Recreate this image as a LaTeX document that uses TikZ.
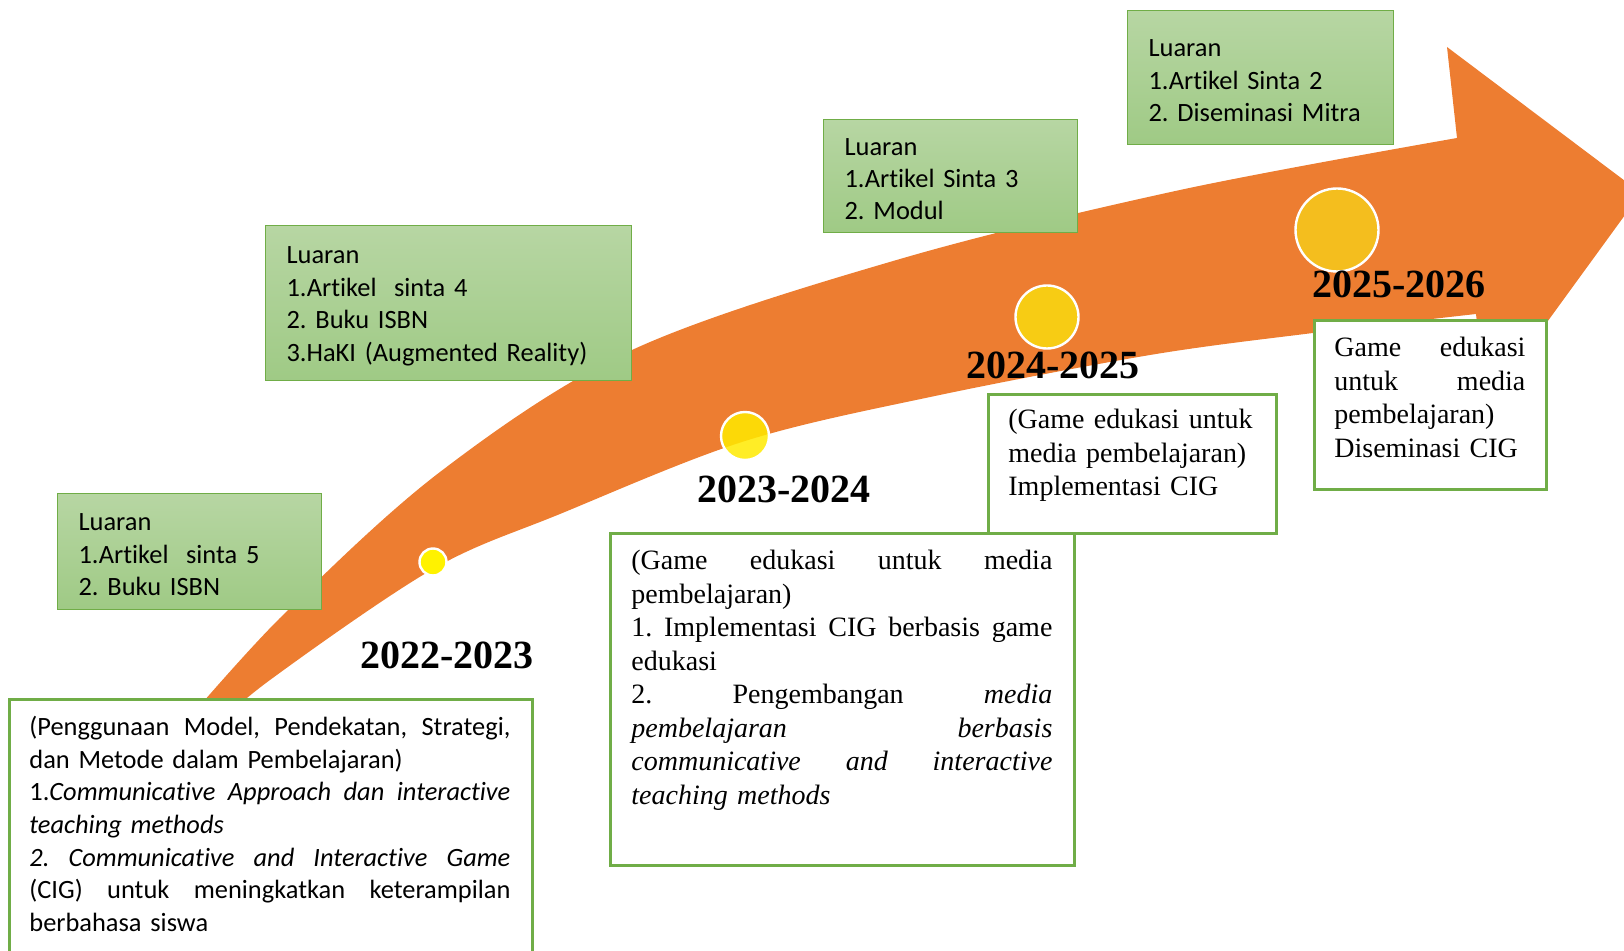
\documentclass[tikz,border=0pt]{standalone}
\usepackage{fontspec}
\setmainfont{Liberation Serif}
\setsansfont{Carlito}[Ligatures=NoCommon]
\usetikzlibrary{positioning}
\frenchspacing

\definecolor{arroworange}{RGB}{237,125,49}
\definecolor{boxgreen}{RGB}{112,173,71}
\definecolor{greentop}{RGB}{183,214,163}
\definecolor{greenbot}{RGB}{159,202,133}
\definecolor{dotone}{RGB}{255,242,0}
\definecolor{dottwo}{RGB}{255,234,0}
\definecolor{dotthree}{RGB}{247,204,20}
\definecolor{dotfour}{RGB}{244,190,30}

% justified line: width, text
\newcommand{\jline}[2]{\begingroup\spaceskip=0pt plus 10em\relax\xspaceskip=0pt\makebox[#1][s]{#2}\endgroup}
\newcommand{\lstrut}{\rule{0pt}{11.6pt}}

\tikzset{
  outbox/.style={draw=boxgreen, line width=0.6pt, top color=greentop, bottom color=greenbot,
    font=\sffamily\fontsize{13.2}{16.2}\selectfont, align=left,
    inner xsep=10.5pt, inner ysep=0pt, anchor=north west, execute at begin node=\lstrut},
  planbox/.style={draw=boxgreen, line width=1.3pt, fill=white, inner sep=0pt, anchor=north west},
  plantext/.style={font=\fontsize{14}{16.75}\selectfont, align=left, inner sep=0pt, anchor=north west},
  yearlbl/.style={font=\bfseries\fontsize{20}{24}\selectfont, inner sep=0pt},
  dot/.style={circle, draw=white, line width=1.2pt, inner sep=0pt}
}

\begin{document}
\begin{tikzpicture}[x=0.5pt, y=-0.5pt]

	\useasboundingbox (0,0) rectangle (1624,951);

	\def\wA{240.5pt} % text width, box 2022-2023
	\def\wB{210.5pt} % text width, box 2023-2024
	\def\wD{95.5pt}  % text width, box 2025-2026

	% curved arrow
	\fill[arroworange]
	plot[smooth, tension=0.55] coordinates {(160,752) (279,619) (440,472) (632,350) (900,259) (1180,190) (1457,138)}
	-- (1447,47) -- (1641,193) -- (1486,406)
	-- plot[smooth, tension=0.55] coordinates {(1476,314) (1313,333) (1150,355) (935,396) (745,441) (560,514) (433,569) (270,680) (200,740)}
	-- cycle;

	% milestones
	\node[dot, fill=dotone, minimum size=13.5pt] (dotA) at (433,562) {};
	\node[dot, fill=dottwo, fill opacity=0.85, minimum size=24pt] (dotB) at (745,436) {};
	\node[dot, fill=dotthree, minimum size=31.5pt] (dotC) at (1047,317) {};
	\node[dot, fill=dotfour, minimum size=41.5pt] (dotD) at (1337,230) {};

	% years
	\node[yearlbl] (yrA) at (447,655) {2022-2023};
	\node[yearlbl] (yrB) at (784,489) {2023-2024};
	\node[yearlbl] (yrC) at (1053,365) {2024-2025};
	\node[yearlbl] (yrD) at (1399,284) {2025-2026};

	% luaran
	\node[outbox, text width=111pt, minimum height=58pt] (outA) at (57,493)
	{Luaran\\1.Artikel\ \ sinta 5\\2. Buku ISBN};
	\node[outbox, text width=162pt, minimum height=77.5pt] (outB) at (265,225)
	{Luaran\\1.Artikel\ \ sinta 4\\2. Buku ISBN\\3.HaKI (Augmented Reality)};
	\node[outbox, text width=106pt, minimum height=56.5pt] (outC) at (823,119)
	{Luaran\\1.Artikel Sinta 3\\2. Modul};
	\node[outbox, text width=112pt, minimum height=67pt] (outD) at (1127,10)
	{Luaran\\1.Artikel Sinta 2\\2. Diseminasi Mitra};

	% kegiatan 2022-2023
	\node[planbox, minimum width=261.5pt, minimum height=135pt] (planA) at (8,698) {};
	\node[plantext, font=\sffamily\fontsize{13.2}{16.3}\selectfont, text width=\wA] (planAtxt)
	at ([xshift=10.5pt, yshift=-9pt]planA.north west)
	{\jline{\wA}{(Penggunaan Model, Pendekatan, Strategi,}\\
	dan Metode dalam Pembelajaran)\\
	\jline{\wA}{1.\textit{Communicative Approach dan interactive}}\\
	\textit{teaching methods}\\
	\jline{\wA}{\textit{2. Communicative and Interactive Game}}\\
	\jline{\wA}{(CIG) untuk meningkatkan keterampilan}\\
	berbahasa siswa};

	% kegiatan 2023-2024
	\node[planbox, minimum width=232pt, minimum height=166pt] (planB) at (609,532) {};
	\node[plantext, text width=\wB] (planBtxt)
	at ([xshift=11pt, yshift=-9pt]planB.north west)
	{\jline{\wB}{(Game edukasi untuk media}\\
	pembelajaran)\\
	\jline{\wB}{1. Implementasi CIG berbasis game}\\
	edukasi\\
	\jline{\wB}{2. Pengembangan \textit{media}}\\
	\jline{\wB}{\textit{pembelajaran berbasis}}\\
	\jline{\wB}{\textit{communicative and interactive}}\\
	\textit{teaching methods}};

	% kegiatan 2024-2025
	\node[planbox, minimum width=144pt, minimum height=69.5pt] (planC) at (987,393) {};
	\node[plantext, text width=123pt] (planCtxt)
	at ([xshift=10.5pt, yshift=-8pt]planC.north west)
	{(Game edukasi untuk\\media pembelajaran)\\Implementasi CIG};

	% kegiatan 2025-2026
	\node[planbox, minimum width=116pt, minimum height=84.5pt] (planD) at (1313,319) {};
	\node[plantext, text width=\wD] (planDtxt)
	at ([xshift=10.5pt, yshift=-9pt]planD.north west)
	{\jline{\wD}{Game edukasi}\\
	\jline{\wD}{untuk media}\\
	pembelajaran)\\
	Diseminasi CIG};

\end{tikzpicture}
\end{document}
